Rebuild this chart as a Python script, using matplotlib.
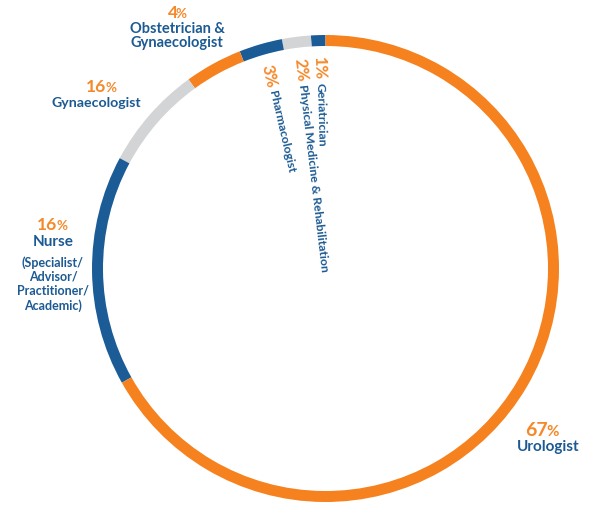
import numpy as np
import matplotlib.pyplot as plt

# arc shares measured off the ring (counter-clockwise from 12 o'clock)
names = ['Geriatrician', 'Physical Medicine & Rehabilitation', 'Pharmacologist',
         'Obstetrician &\nGynaecologist', 'Gynaecologist',
         'Nurse', 'Urologist']
arc_share = [1, 2, 3, 4, 7.2, 16, 67]
pct_labels = ['1', '2', '3', '4', '16', '16', '67']
ring_colors = ['#1b5c97', '#d3d4d6', '#1b5c97', '#f5821f', '#d3d4d6', '#1b5c97', '#f5821f']

BLUE = '#1b5a93'
ORANGE = '#f5892a'
FONT = ['Lato', 'DejaVu Sans']
H = 531

fig = plt.figure(figsize=(6.01, 5.31), dpi=100)
ax = fig.add_axes([0, 0, 1, 1])

cx, cy, R = 325.5, H - 268.5, 233.5
wedges, _ = ax.pie(arc_share, colors=ring_colors, startangle=90,
                   radius=R, center=(cx, cy),
                   wedgeprops=dict(width=11, linewidth=0))
ax.set_xlim(0, 601)
ax.set_ylim(0, H)
ax.set_aspect('equal')
ax.axis('off')

renderer = fig.canvas.get_renderer()


def text_width(s, size):
    t = ax.text(0, 0, s, fontsize=size, fontweight='bold', family=FONT)
    w = t.get_window_extent(renderer).width
    t.remove()
    return w


def pct_block(x, y, num, size=12.5):
    # big number + smaller percent sign, centred on x (y given from the top)
    y = H - y
    wn = text_width(num, size)
    wp = text_width('%', size * 0.78)
    left = x - (wn + wp) / 2
    ax.text(left, y, num, color=ORANGE, fontsize=size, fontweight='bold',
            family=FONT, ha='left', va='center')
    ax.text(left + wn - 1.5, y - 1, '%', color=ORANGE, fontsize=size * 0.78,
            fontweight='bold', family=FONT, ha='left', va='center')


def label(x, y, s, size=10.5, **kw):
    ax.text(x, H - y, s, color=BLUE, fontsize=size, fontweight='bold', family=FONT,
            ha='center', va='center', **kw)


# radial-ish labels for the three small slices
tilt = [1.5, 6.7, 13.0]
cum = np.cumsum([0] + arc_share)
for i in range(3):
    mid = (cum[i] + cum[i + 1]) / 2 / 100 * 360  # degrees left of 12 o'clock
    a = np.deg2rad(mid)
    r0 = 212
    rot = -90 + tilt[i]
    t = np.deg2rad(tilt[i])
    x0 = cx - r0 * np.sin(a)
    y0 = cy + r0 * np.cos(a)
    ax.text(x0, y0, pct_labels[i] + '%', color=ORANGE, fontsize=12, fontweight='bold',
            family=FONT, rotation=rot, rotation_mode='anchor', ha='left', va='center')
    off = text_width(pct_labels[i] + '%', 12) + 3
    ax.text(x0 + off * np.sin(t), y0 - off * np.cos(t), names[i], color=BLUE,
            fontsize=8.8, fontweight='bold', family=FONT, rotation=rot,
            rotation_mode='anchor', ha='left', va='center')

# horizontal labels
pct_block(178, 13, pct_labels[3])
label(177, 36, names[3], linespacing=1.05)

pct_block(102, 87, pct_labels[4])
label(96.5, 103, names[4], size=10.2)

pct_block(53, 225, pct_labels[5])
label(53, 242, names[5], size=11)
label(53, 284, '(Specialist/\nAdvisor/\nPractitioner/\nAcademic)', size=9,
      linespacing=1.2)

pct_block(543, 431, pct_labels[6], size=14)
label(548.5, 447, names[6], size=11)

fig.savefig('out.png', dpi=100, facecolor='white')
